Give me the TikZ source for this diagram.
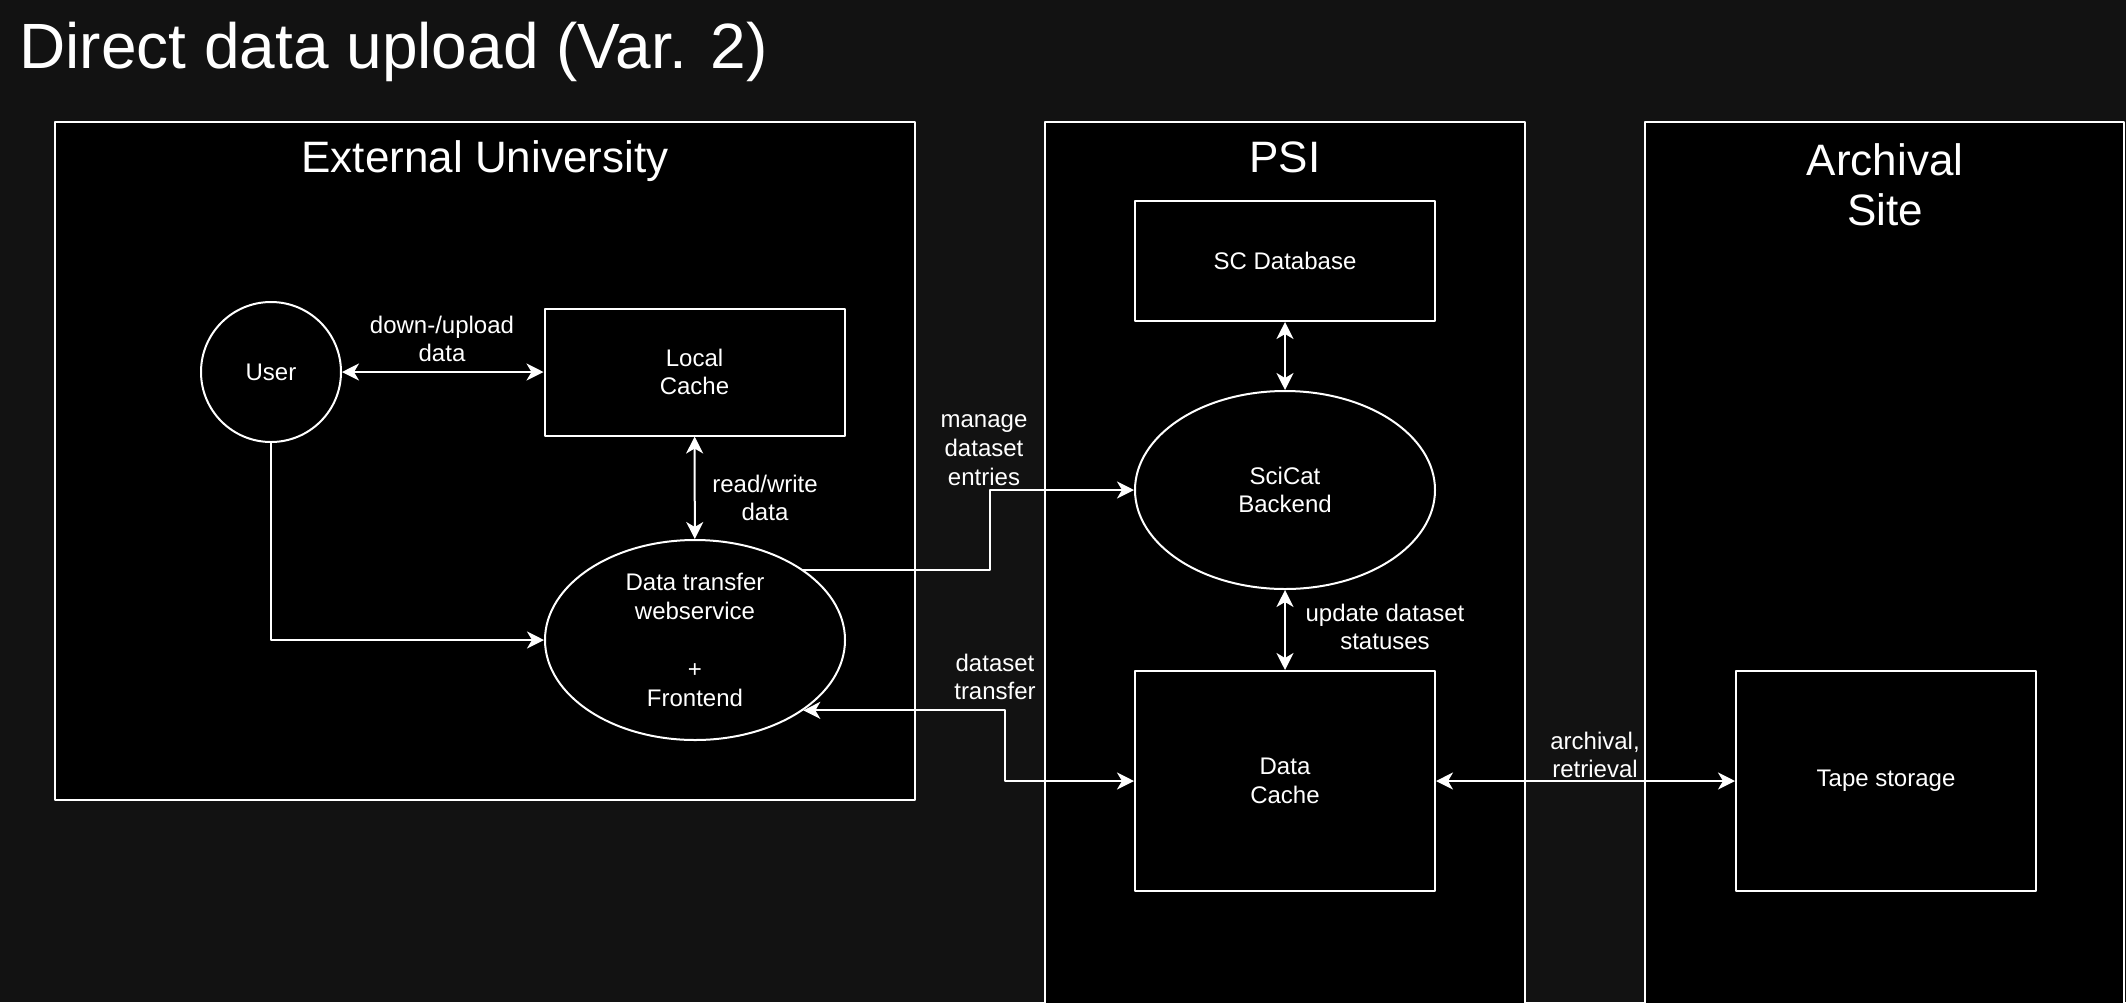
\documentclass[tikz,border=0pt]{standalone}
\usepackage{fontspec}
\setmainfont{Liberation Sans}
\usetikzlibrary{shapes.geometric,arrows.meta}
\definecolor{bgdark}{RGB}{18,18,18}
\tikzset{
  zone/.style={draw=white, fill=black, line width=1pt},
  zonetitle/.style={font=\fontsize{22}{25}\selectfont, inner sep=0pt, align=center},
  box/.style={draw=white, fill=black, line width=1pt, minimum width=150pt, inner sep=0pt, align=center},
  oval/.style={ellipse, draw=white, fill=black, line width=1pt, minimum width=150pt, minimum height=100pt, inner sep=0pt, align=center},
  lbl/.style={inner sep=0pt, align=center},
  link/.style={draw=white, line width=1pt}
}
\begin{document}
\begin{tikzpicture}[x=0.5pt, y=-0.5pt, line join=round, text=white, font=\fontsize{12}{14.4}\selectfont, >={Stealth[length=8.5pt,width=8.5pt,inset=2.5pt]}]
		\useasboundingbox (0,0) rectangle (2126,1002);
		\fill[bgdark] (0,0) rectangle (2126,1002);
		\clip (0,0) rectangle (2126,1002);
		% Zones
		\draw[zone] (55,122) rectangle (915,800);
		\draw[zone] (1045,122) rectangle (1525,1015);
		\draw[zone] (1645,122) rectangle (2124,1015);
		\node[anchor=base west, inner sep=0pt, font=\fontsize{32}{38}\selectfont] (title) at (19,68) {Direct data upload (Var. 2)};
		\node[zonetitle, anchor=base] (extT) at (485,172) {External University};
		\node[zonetitle, anchor=base] (psiT) at (1285,172) {PSI};
		\node[zonetitle, anchor=north] (archT) at (1885,143.5) {Archival\\Site};
		% Components
		\node[circle, draw=white, fill=black, line width=1pt, minimum size=70pt, inner sep=0pt] (user) at (271,372) {User};
		\node[box, minimum height=63.5pt] (lc) at (694.5,372) {Local\\Cache};
		\node[oval] (dts) at (695,640) {Data transfer\\webservice\\\mbox{}\\+\\Frontend};
		\node[box, minimum height=60pt] (scdb) at (1285,261) {SC Database};
		\node[oval, minimum height=99pt] (sb) at (1285,490) {SciCat\\Backend};
		\node[box, minimum height=110pt] (dc) at (1285,781) {Data\\Cache};
		\node[box, minimum height=110pt] (tape) at (1886,781) {Tape storage};
		\coordinate (m1) at (990,490);
		\coordinate (m2) at (1005,781);
		% Connectors
		\draw[link, <->] (user) -- (lc);
		\draw[link, <->] (lc) -- (dts);
		\draw[link, ->] (user.south) |- (dts.west);
		\draw[link, ->] (dts.33) -| (m1) -- (sb.west);
		\draw[link, <->] (dts.-33) -| (m2) -- (dc.west);
		\draw[link, <->] (scdb) -- (sb);
		\draw[link, <->] (sb) -- (dc);
		\draw[link, <->] (dc) -- (tape);
		% Labels
		\node[lbl] (lUp) at (442,339) {down-/upload\\data};
		\node[lbl] (lRw) at (765,498) {read/write\\data};
		\node[lbl] (lMg) at (984,450) {manage\\dataset\\entries};
		\node[lbl] (lTr) at (995,677) {dataset\\transfer};
		\node[lbl] (lSt) at (1385,627) {update dataset\\statuses};
		\node[lbl] (lAr) at (1595,755) {archival,\\retrieval};
		\end{tikzpicture}
\end{document}
